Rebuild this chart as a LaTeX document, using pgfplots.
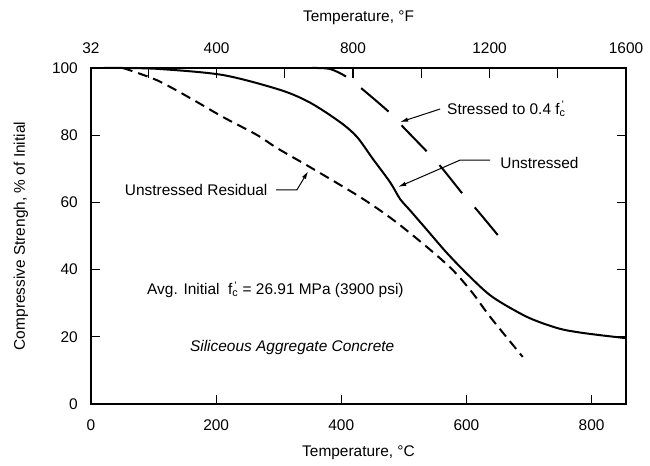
\documentclass[border=0pt]{standalone}
\usepackage{fontspec}
\setmainfont{Liberation Sans}
\usepackage{pgfplots}
\pgfplotsset{compat=1.18}
\usetikzlibrary{arrows.meta}
\newcommand{\fc}{f\makebox[0pt][l]{\textsuperscript{\hspace{0.18em}'}}\textsubscript{c}}
\newcommand{\fs}{\fontsize{15.5}{18}\selectfont}
\begin{document}
\begin{tikzpicture}
\begin{axis}[name=main, at={(0,0)}, anchor=south west, scale only axis,
  width=535bp, height=336bp,
  xmin=0, xmax=855, ymin=0, ymax=100,
  axis line style={-, line width=2.2bp},
  xtick={0,200,400,600,800}, xticklabels={0,200,400,600,800},
  ytick={0,20,40,60,80,100}, yticklabels={0,20,40,60,80,100},
  xtick pos=left, ytick pos=both, yticklabel pos=left,
  tick align=inside, major tick length=9bp,
  tick style={line width=1.1bp, black},
  ticklabel style={font=\fs},
  /pgf/number format/assume math mode=true,
  xticklabel style={anchor=center, inner sep=0pt, yshift=-21bp},
  yticklabel style={anchor=east, inner sep=0pt, xshift=-13bp},
  xlabel={Temperature, °C},
  ylabel={Compressive Strengh, \% of Initial},
  label style={font=\fs},
  xlabel style={at={([yshift=-49bp]axis description cs:0.5,0)}, anchor=center},
  ylabel style={at={([xshift=-70bp]axis description cs:0,0.5)}, anchor=center},
  clip=false]
% Unstressed
\addplot[black, line width=2bp, smooth, mark=none] coordinates {
 (20,100) (50,100) (110,99.7) (211,97.9) (302,93.5) (350,89.7)
 (398,83.9) (425,79.5) (451,72.8) (478,66.0) (494,61.0) (510,57.6)
 (537,51.8) (569,44.9) (606,37.8) (642,31.8) (697,25.9) (745,22.6)
 (777,21.4) (813,20.5) (855,19.6)};
% Stressed to 0.4 fc'
\addplot[black, line width=2bp, smooth, mark=none, dash pattern=on 36bp off 19bp] coordinates {
 (353,100) (382,99.7) (409,97.3) (435,93.5) (478,86.6) (499,82.4)
 (539,74.7) (561,70.2) (598,61.6) (617,57.7) (654,49.4)};
% Unstressed residual
\addplot[black, line width=2bp, smooth, mark=none, dash pattern=on 10bp off 6bp] coordinates {
 (51,100) (105,96.4) (158,91.1) (211,85.4) (265,80.1) (297,76.2)
 (350,70.5) (430,61.6) (483,54.8) (537,46.7) (578,39.9) (610,33.0)
 (638,25.9) (690,14.0)};
% annotations
\node[font=\fs, anchor=west, inner sep=0pt] at (axis cs:569,87.8) {Stressed to 0.4 \fc};
\draw[line width=1bp, -{Latex[length=8bp,width=4.5bp]}] (axis cs:558,87.8) -- (axis cs:494,83.9);
\node[font=\fs, anchor=west, inner sep=0pt] at (axis cs:654,71.7) {Unstressed};
\draw[line width=1bp, -{Latex[length=8bp,width=4.5bp]}] (axis cs:638,72.6) -- (axis cs:590,72.6) -- (axis cs:491,64.6);
\node[font=\fs, anchor=west, inner sep=0pt] at (axis cs:54,63.7) {Unstressed Residual};
\draw[line width=1bp, -{Latex[length=8bp,width=4.5bp]}] (axis cs:296,63.7) -- (axis cs:329,63.7) -- (axis cs:347,69.3);
\node[font=\fs, anchor=west, inner sep=0pt] at (axis cs:89.5,33.9) {Avg. Initial \ \fc\ = 26.91 MPa (3900 psi)};
\node[font=\fs\itshape, anchor=west, inner sep=0pt] at (axis cs:158,16.7) {Siliceous Aggregate Concrete};
\end{axis}
\begin{axis}[at={(0,0)}, anchor=south west, scale only axis,
  width=535bp, height=336bp,
  xmin=32, xmax=1600, ymin=0, ymax=100,
  axis x line*=top, axis y line=none,
  axis line style={-, line width=2.2bp},
  xtick={32,400,800,1200,1600}, xticklabels={32,400,800,1200,1600},
  minor xtick={200,600,1000,1400},
  tick align=inside, major tick length=10bp, minor tick length=10bp,
  tick style={line width=1.1bp, black},
  ticklabel style={font=\fs},
  xticklabel style={anchor=center, inner sep=0pt, yshift=20bp},
  xlabel={Temperature, °F},
  label style={font=\fs},
  xlabel style={at={([yshift=50bp]axis description cs:0.5,1)}, anchor=center}]
\addplot[draw=none] coordinates {(32,0)};
\end{axis}
\pgfresetboundingbox
\path[use as bounding box] (-91bp,-62bp) rectangle (559bp,404bp);
\end{tikzpicture}
\end{document}
